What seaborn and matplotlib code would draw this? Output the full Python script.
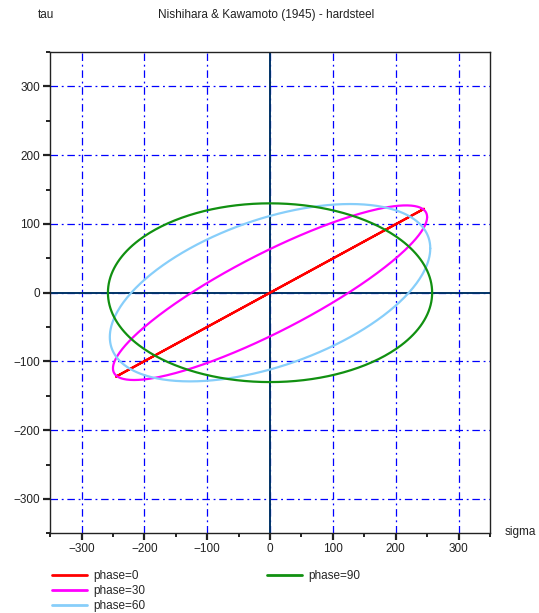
import numpy as np
import pandas as pd
import matplotlib
matplotlib.use("Agg")
import matplotlib.pyplot as plt
from matplotlib.lines import Line2D
from matplotlib.ticker import MultipleLocator
import seaborn as sns

# Data: sigma amplitude, tau amplitude, phase (deg)
phases = [0, 30, 60, 90]
sigma_amp = [245, 250, 255, 258]
tau_amp = [122, 127, 129, 130]
labels = ["phase=0", "phase=30", "phase=60", "phase=90"]
colors = ["#ff0000", "#ff00ff", "#87cefa", "#119011"]

ticks = [-300, -200, -100, 0, 100, 200, 300]

sns.set_theme(style="white")
plt.rcParams['font.family'] = ['Liberation Sans', 'DejaVu Sans']

t = np.linspace(0, 2 * np.pi, 361)
rows = []
for ph, a, b, lab in zip(phases, sigma_amp, tau_amp, labels):
    s = a * np.cos(t)
    ta = b * np.cos(t - np.deg2rad(ph))
    rows.append(pd.DataFrame({"sigma": s, "tau": ta, "series": lab, "order": np.arange(len(t))}))
df = pd.concat(rows, ignore_index=True)

fig = plt.figure(figsize=(5.39, 6.13), dpi=100)
ax = fig.add_axes([0.093, 0.130, 0.816, 0.785])

ax.set_xlim(-350, 350)
ax.set_ylim(-350, 350)
ax.set_xticks(ticks)
ax.set_yticks(ticks)
ax.xaxis.set_minor_locator(MultipleLocator(50))
ax.yaxis.set_minor_locator(MultipleLocator(50))
ax.grid(True, which="major", color="#0000ff", linestyle="-.", linewidth=0.9, dashes=(6, 3, 1.5, 3))
ax.set_axisbelow(True)

ax.axhline(0, color="#003366", linewidth=1.4, zorder=2)
ax.axvline(0, color="#003366", linewidth=1.4, zorder=2)

sns.lineplot(data=df, x="sigma", y="tau", hue="series", palette=colors,
             hue_order=labels, sort=False, estimator=None, units="series",
             linewidth=1.6, ax=ax, legend=False, zorder=3)

for sp in ax.spines.values():
    sp.set_color("#222222")
    sp.set_linewidth(1.0)

ax.tick_params(which="major", direction="out", length=5, width=1.6, colors="#222222",
               labelsize=8.5, left=True, bottom=True, pad=2)
ax.tick_params(which="minor", direction="out", length=3, width=1.4, colors="#222222",
               left=True, bottom=True)
ax.set_xlabel("")
ax.set_ylabel("")

fig.text(0.070, 0.975, "tau", fontsize=8.5, ha="left", va="center", color="#222222")
fig.text(0.493, 0.975, "Nishihara & Kawamoto (1945) - hardsteel", fontsize=8.5,
         ha="center", va="center", color="#222222")
fig.text(0.937, 0.132, "sigma", fontsize=8.5, ha="left", va="center", color="#222222")

handles = [Line2D([0], [0], color=c, linewidth=2) for c in colors]
blank = Line2D([0], [0], color="none")
leg = fig.legend(handles + [blank, blank], labels + ["", ""], ncol=2,
                 loc="upper left", bbox_to_anchor=(0.085, 0.079), frameon=False,
                 fontsize=8.5, handlelength=3.0, handletextpad=0.5,
                 columnspacing=10.3, labelspacing=0.25, borderpad=0)

fig.savefig("out.png", dpi=100)
